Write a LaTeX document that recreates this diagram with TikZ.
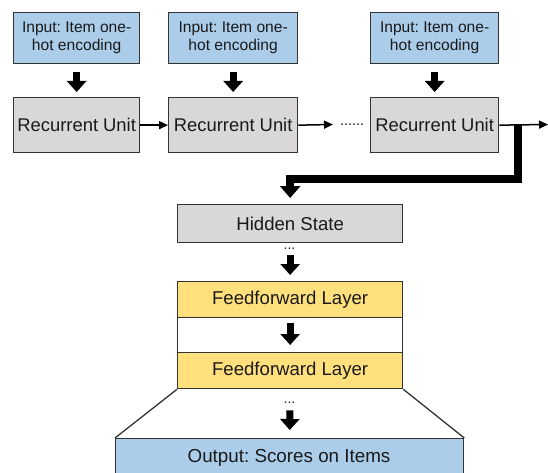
\documentclass[tikz,border=0pt]{standalone}
\usepackage{fontspec}
\setmainfont{Liberation Sans}
\usetikzlibrary{arrows.meta}
\definecolor{inblue}{HTML}{ABCDEA}
\definecolor{rugray}{HTML}{D9D7D8}
\definecolor{ffyellow}{HTML}{FFE07C}
\definecolor{boxline}{HTML}{333333}
\definecolor{txt}{HTML}{1A1A1A}
\frenchspacing
\begin{document}
\begin{tikzpicture}[x=1pt,y=-1pt,
  box/.style={draw=boxline, line width=1.3pt, inner sep=0pt, anchor=north west, text=txt},
  inbox/.style={box, fill=inblue, minimum height=51pt, align=center, font=\fontsize{15.6}{18}\selectfont},
  rubox/.style={box, fill=rugray, minimum height=55pt, font=\fontsize{18.4}{22}\selectfont},
  midbox/.style={box, minimum width=225pt, font=\fontsize{18.6}{22}\selectfont},
  bigarrow/.style={line width=7pt, -{Triangle[width=19pt,length=11pt]}},
  thinarrow/.style={line width=1.5pt, -{Triangle[width=8pt,length=9pt]}},
  dotsnode/.style={inner sep=0pt, anchor=base, text=txt}
]
\useasboundingbox (0,0) rectangle (548,473);
\clip (0,0) rectangle (548,473);

% input boxes
\node[inbox, minimum width=126pt] (in1) at (13,12) {Input: Item one-\\hot encoding};
\node[inbox, minimum width=129pt] (in2) at (168,12) {Input: Item one-\\hot encoding};
\node[inbox, minimum width=128pt] (in3) at (370,12) {Input: Item one-\\hot encoding};

% recurrent units
\node[rubox, minimum width=126pt] (ru1) at (13,97) {Recurrent Unit};
\node[rubox, minimum width=129pt] (ru2) at (168,97) {Recurrent Unit};
\node[rubox, minimum width=128pt] (ru3) at (370,97) {Recurrent Unit};

\foreach \i in {1,2,3}{
  \draw[bigarrow, shorten <=8pt, shorten >=5pt] (in\i.south) -- (ru\i.north);
}

% horizontal connections
\draw[thinarrow] (ru1.east) -- (ru2.west);
\coordinate (gapend) at (333,124.5);
\draw[thinarrow] (ru2.east) -- (gapend);
\node[dotsnode, font=\fontsize{14.4}{16}\selectfont, anchor=base west] (hdots) at (340,126) {......};
\coordinate (rightend) at (548,124.5);
\draw[thinarrow] (ru3.east) -- (rightend);

% hidden state
\node[midbox, fill=rugray, minimum height=38pt] (hid) at (177,204) {Hidden State};

% thick feedback path
\coordinate (tap) at (518,124.5);
\coordinate (tapdown) at (518,178.5);
\draw[line width=8pt, line join=miter, -{Triangle[width=20pt,length=12pt]}, shorten >=6pt]
  (tap) -- (tapdown) -- (tapdown -| hid.north) -- (hid.north);

% feedforward stack
\node[box, minimum width=225pt, minimum height=107pt] (ffstack) at (177,281) {};
\node[midbox, fill=ffyellow, minimum height=36pt] (ff1) at (177,281) {Feedforward Layer};
\node[midbox, fill=ffyellow, minimum height=36pt] (ff2) at (177,352) {Feedforward Layer};

\node[dotsnode, font=\fontsize{14}{16}\selectfont] (d1) at (289.5,249.5) {...};
\draw[bigarrow, shorten <=12pt, shorten >=6pt] (hid.south) -- (ff1.north);
\draw[bigarrow, shorten <=5pt, shorten >=7pt] (ff1.south) -- (ff2.north);

% output
\node[box, fill=inblue, minimum width=348pt, minimum height=50pt] (out) at (115,438) {};
\node[inner sep=0pt, text=txt, font=\fontsize{18.8}{22}\selectfont] (outlbl) at (289,458) {Output: Scores on Items};
\draw[draw=boxline, line width=1.3pt] (ff2.south west) -- (out.north west);
\draw[draw=boxline, line width=1.3pt] (ff2.south east) -- (out.north east);
\node[dotsnode, font=\fontsize{14}{16}\selectfont] (d2) at (289.5,403.5) {...};
\draw[bigarrow, shorten <=21pt, shorten >=8pt] (ff2.south) -- (out.north);
\end{tikzpicture}
\end{document}
